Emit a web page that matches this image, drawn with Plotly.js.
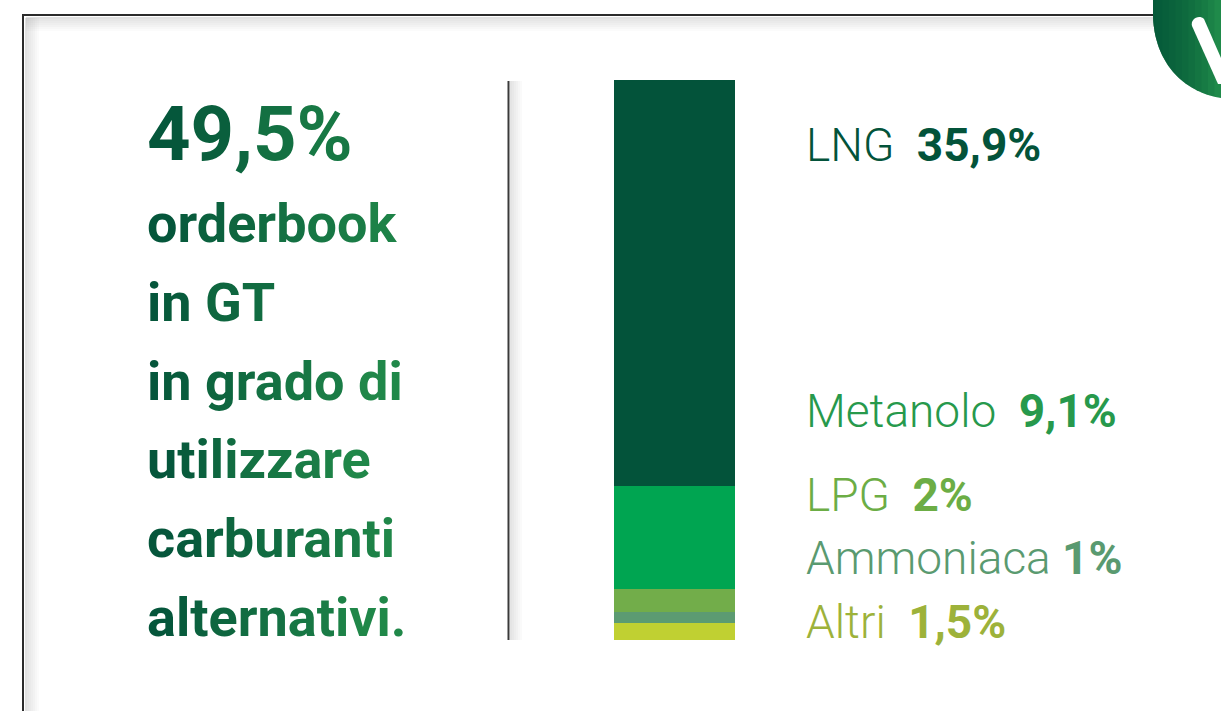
<!DOCTYPE html>
<html>
<head>
<meta charset="utf-8">
<script src="https://cdn.plot.ly/plotly-3.0.1.min.js"></script>
<style>html,body{margin:0;padding:0;background:#fff;}#chart{width:1221px;height:711px;}</style>
</head>
<body>
<div id="chart"></div>
<script>
// ---- data ----
const categories = ['LNG', 'Metanolo', 'LPG', 'Ammoniaca', 'Altri'];
const values = [35.9, 9.1, 2, 1, 1.5];
const valueLabels = ['35,9%', '9,1%', '2%', '1%', '1,5%'];
const totalLabel = '49,5%';
const headlineLines = ['orderbook', 'in GT', 'in grado di', 'utilizzare', 'carburanti', 'alternativi.'];

// ---- styles ----
const W = 1221, H = 711;
const px = x => x / W;
const py = y => 1 - y / H;
const barColors = ['#03533A', '#00A551', '#72AD4A', '#5C9B72', '#C0D032'];
const labelColors = ['#03533A', '#27994C', '#6CAD45', '#5A9A70', '#9DB23A'];
const labelY = [145, 411, 495, 558, 622];
const gaps = ['\u00a0 ', '\u00a0 ', '\u00a0 ', ' ', '\u00a0 '];

const total = values.reduce((a, b) => a + b, 0);

// stacked bar: bottom first
const traces = [];
for (let i = categories.length - 1; i >= 0; i--) {
  traces.push({
    type: 'bar', x: [' '], y: [values[i]], name: categories[i],
    marker: {color: barColors[i], line: {width: 0}},
    hoverinfo: 'skip', showlegend: false
  });
}

// gradient-colored text helper
function lerp(a, b, t) { return Math.round(a + (b - a) * t); }
const c0 = [3, 83, 58], c1 = [32, 136, 73];
function gradText(str, charW, blockW) {
  let out = '';
  for (let k = 0; k < str.length; k++) {
    const t = Math.min(1, Math.max(0, ((k + 0.5) * charW) / blockW));
    const col = 'rgb(' + lerp(c0[0], c1[0], t) + ',' + lerp(c0[1], c1[1], t) + ',' + lerp(c0[2], c1[2], t) + ')';
    out += '<span style="color:' + col + '">' + str[k] + '</span>';
  }
  return out;
}

const annotations = [];
annotations.push({
  xref: 'paper', yref: 'paper', x: px(146), y: py(134), xanchor: 'left', yanchor: 'middle',
  text: gradText(totalLabel, 40, 260), showarrow: false, borderpad: 0,
  font: {family: 'Roboto', size: 76, weight: 700, color: '#03533A'}
});
const headBase = [243, 322, 401, 479, 558, 637];
headlineLines.forEach((t, i) => {
  annotations.push({
    xref: 'paper', yref: 'paper', x: px(146), y: py(headBase[i] - 19.5), xanchor: 'left', yanchor: 'middle',
    text: gradText(t, 27, 260), showarrow: false, borderpad: 0,
    font: {family: 'Roboto', size: 54, weight: 700, color: '#03533A'}
  });
});
categories.forEach((c, i) => {
  annotations.push({
    xref: 'paper', yref: 'paper', x: px(805), y: py(labelY[i]), xanchor: 'left', yanchor: 'middle',
    text: c + gaps[i] + '<b>' + valueLabels[i] + '</b>', showarrow: false, borderpad: 0,
    font: {family: 'Roboto', size: 46, weight: 300, color: labelColors[i]}
  });
});

// frame, divider, logo
const shapes = [];
for (let k = 0; k < 7; k++) {
  const op = 0.22 * (1 - k / 7);
  shapes.push({type: 'line', xref: 'paper', yref: 'paper', x0: px(26 + k * 2), x1: px(26 + k * 2), y0: py(18), y1: py(711), line: {color: 'rgba(120,120,120,' + op + ')', width: 2}});
  shapes.push({type: 'line', xref: 'paper', yref: 'paper', x0: px(26), x1: px(1160), y0: py(18 + k * 2), y1: py(18 + k * 2), line: {color: 'rgba(120,120,120,' + op + ')', width: 2}});
}
shapes.push({type: 'line', xref: 'paper', yref: 'paper', x0: px(23), x1: px(23), y0: py(14), y1: py(711), line: {color: '#2b2b2b', width: 2}});
shapes.push({type: 'line', xref: 'paper', yref: 'paper', x0: px(22), x1: px(1160), y0: py(15), y1: py(15), line: {color: '#2b2b2b', width: 2}});
for (let k = 0; k < 6; k++) {
  const op = 0.2 * (1 - k / 6);
  shapes.push({type: 'line', xref: 'paper', yref: 'paper', x0: px(511 + k * 2), x1: px(511 + k * 2), y0: py(81), y1: py(640), line: {color: 'rgba(120,120,120,' + op + ')', width: 2}});
}
shapes.push({type: 'line', xref: 'paper', yref: 'paper', x0: px(508.5), x1: px(508.5), y0: py(81), y1: py(640), line: {color: '#3a3a3a', width: 2}});

// logo (paper-space path) with horizontal gradient made of stacked translucent strips
function P(x, y) { return px(x) + ',' + py(y); }
const bz = [[1153, 15], [1154, 62], [1183, 92], [1221, 98]];
const curve = [];
for (let s = 0; s <= 40; s++) {
  const t = s / 40, u = 1 - t;
  curve.push([
    u * u * u * bz[0][0] + 3 * u * u * t * bz[1][0] + 3 * u * t * t * bz[2][0] + t * t * t * bz[3][0],
    u * u * u * bz[0][1] + 3 * u * u * t * bz[1][1] + 3 * u * t * t * bz[2][1] + t * t * t * bz[3][1]
  ]);
}
function logoPoly(xMax) {
  const pts = [[1153, -2]];
  for (let s = 0; s < curve.length; s++) {
    const p = curve[s];
    if (p[0] <= xMax) { pts.push(p); }
    else {
      const q = curve[s - 1];
      const f = (xMax - q[0]) / (p[0] - q[0]);
      pts.push([xMax, q[1] + f * (p[1] - q[1])]);
      break;
    }
  }
  pts.push([xMax, -2]);
  return 'M' + pts.map(p => P(p[0], p[1])).join(' L') + ' Z';
}
shapes.push({type: 'path', xref: 'paper', yref: 'paper', path: logoPoly(1222), fillcolor: '#1F8A4A', line: {width: 0}});
for (let k = 1; k <= 10; k++) {
  shapes.push({type: 'path', xref: 'paper', yref: 'paper', path: logoPoly(1221 - k * 6.5), fillcolor: 'rgba(3,80,55,0.13)', line: {width: 0}});
}
const vPath = 'M' + P(1192, 26) + ' C' + P(1190, 19) + ' ' + P(1199, 14) + ' ' + P(1204, 19) + ' L' + P(1221, 58) + ' L' + P(1221, 84) + ' L' + P(1218, 84) + ' Z';
shapes.push({type: 'path', xref: 'paper', yref: 'paper', path: vPath, fillcolor: '#ffffff', line: {width: 0}});

const layout = {
  width: W, height: H,
  margin: {l: 0, r: 0, t: 0, b: 0},
  paper_bgcolor: '#ffffff', plot_bgcolor: 'rgba(0,0,0,0)',
  barmode: 'stack', bargap: 0,
  xaxis: {domain: [px(614), px(735)], range: [-0.5, 0.5], visible: false, fixedrange: true},
  yaxis: {domain: [py(640), py(80)], range: [0, total], visible: false, fixedrange: true},
  showlegend: false,
  annotations: annotations,
  shapes: shapes
};

Plotly.newPlot('chart', traces, layout, {displayModeBar: false, staticPlot: true});
</script>
</body>
</html>
